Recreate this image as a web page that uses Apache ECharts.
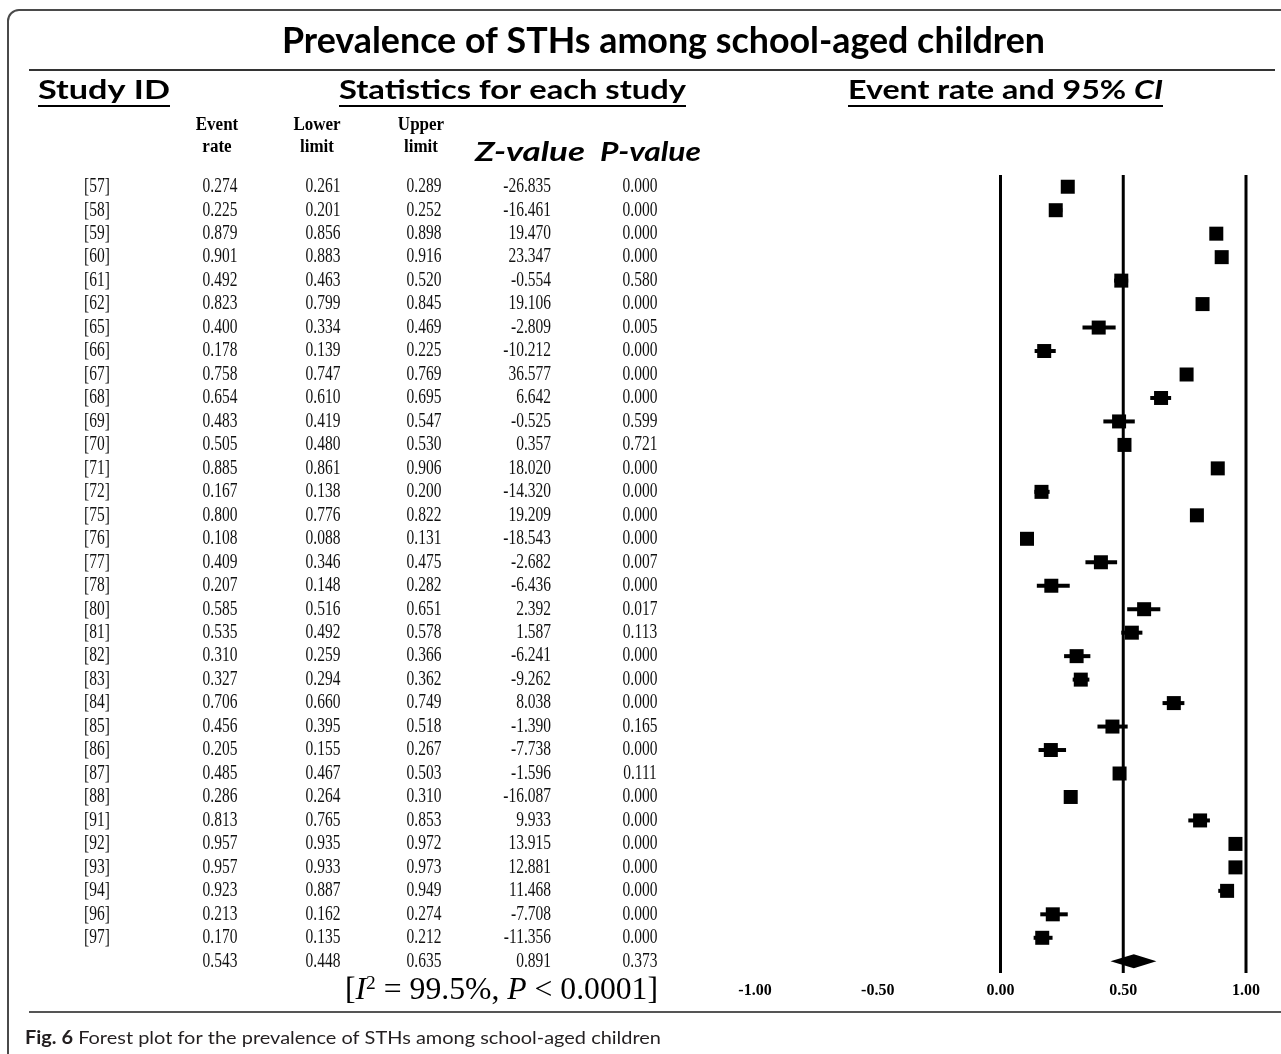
<!DOCTYPE html>
<html>
<head>
<meta charset="utf-8">
<script src="https://cdn.jsdelivr.net/npm/echarts@6/dist/echarts.min.js"></script>
<style>
  html, body { margin: 0; padding: 0; background: #fff; }
  #chart { width: 1281px; height: 1054px; }
</style>
</head>
<body>
<div id="chart"></div>
<script>
// ---------------- data ----------------
const studyIds = ['[57]','[58]','[59]','[60]','[61]','[62]','[65]','[66]','[67]','[68]','[69]','[70]','[71]','[72]','[75]','[76]','[77]','[78]','[80]','[81]','[82]','[83]','[84]','[85]','[86]','[87]','[88]','[91]','[92]','[93]','[94]','[96]','[97]'];
const eventRate = [0.274,0.225,0.879,0.901,0.492,0.823,0.400,0.178,0.758,0.654,0.483,0.505,0.885,0.167,0.800,0.108,0.409,0.207,0.585,0.535,0.310,0.327,0.706,0.456,0.205,0.485,0.286,0.813,0.957,0.957,0.923,0.213,0.170];
const lowerLimit = [0.261,0.201,0.856,0.883,0.463,0.799,0.334,0.139,0.747,0.610,0.419,0.480,0.861,0.138,0.776,0.088,0.346,0.148,0.516,0.492,0.259,0.294,0.660,0.395,0.155,0.467,0.264,0.765,0.935,0.933,0.887,0.162,0.135];
const upperLimit = [0.289,0.252,0.898,0.916,0.520,0.845,0.469,0.225,0.769,0.695,0.547,0.530,0.906,0.200,0.822,0.131,0.475,0.282,0.651,0.578,0.366,0.362,0.749,0.518,0.267,0.503,0.310,0.853,0.972,0.973,0.949,0.274,0.212];
const zValue = ['-26.835','-16.461','19.470','23.347','-0.554','19.106','-2.809','-10.212','36.577','6.642','-0.525','0.357','18.020','-14.320','19.209','-18.543','-2.682','-6.436','2.392','1.587','-6.241','-9.262','8.038','-1.390','-7.738','-1.596','-16.087','9.933','13.915','12.881','11.468','-7.708','-11.356'];
const pValue = [0.000,0.000,0.000,0.000,0.580,0.000,0.005,0.000,0.000,0.000,0.599,0.721,0.000,0.000,0.000,0.000,0.007,0.000,0.017,0.113,0.000,0.000,0.000,0.165,0.000,0.111,0.000,0.000,0.000,0.000,0.000,0.000,0.000];
// pooled (random effects) summary
const summaryRate = 0.543;
const summaryLower = 0.448;
const summaryUpper = 0.635;
const summaryZ = '0.891';
const summaryP = 0.373;
// x axis ticks and reference lines
const xTicks = [-1.00, -0.50, 0.00, 0.50, 1.00];
const refLines = [0, 0.5, 1];

// ---------------- layout helpers ----------------
const SANS = 'Lato';
const SERIF = 'Liberation Serif';
const mctx = document.createElement('canvas').getContext('2d');
function measure(p) {
  mctx.font = (p.italic ? 'italic ' : '') + (p.bold ? 'bold ' : '') + p.size + 'px "' + p.family + '"';
  return mctx.measureText(p.text).width;
}
function textRun(parts, o) {
  const widths = parts.map(measure);
  const total = widths.reduce((a, b) => a + b, 0);
  const sx = o.width ? o.width / total : 1;
  let x = (o.left != null) ? o.left : o.center - total * sx / 2;
  const els = [];
  parts.forEach((p, i) => {
    els.push({
      type: 'text', x: x, y: o.y + (p.dy || 0), scaleX: sx, scaleY: o.scaleY || 1, z: 10,
      style: {
        text: p.text, fontFamily: p.family, fontSize: p.size,
        fontWeight: p.bold ? 'bold' : 'normal', fontStyle: p.italic ? 'italic' : 'normal',
        fill: p.color || '#000', align: 'left', textAlign: 'left',
        verticalAlign: 'middle', textVerticalAlign: 'middle'
      }
    });
    x += widths[i] * sx;
  });
  if (o.underline) {
    const left = (o.left != null) ? o.left : o.center - total * sx / 2;
    els.push({ type: 'line', z: 10, shape: { x1: left, y1: o.underline, x2: left + total * sx, y2: o.underline },
      style: { stroke: '#000', lineWidth: 2 } });
  }
  return els;
}

const graphics = [];
// frame
graphics.push({ type: 'rect', z: 1, shape: { x: 8, y: 10, width: 1300, height: 1100, r: [11, 0, 0, 0] },
  style: { fill: 'none', stroke: '#4a4a4a', lineWidth: 2 } });
graphics.push({ type: 'line', z: 1, shape: { x1: 29, y1: 70, x2: 1275, y2: 70 }, style: { stroke: '#333', lineWidth: 2 } });
graphics.push({ type: 'line', z: 1, shape: { x1: 29, y1: 1012, x2: 1281, y2: 1012 }, style: { stroke: '#555', lineWidth: 2 } });

// title
graphics.push(...textRun([{ text: 'Prevalence of STHs among school-aged children', family: SANS, size: 37, bold: true }],
  { center: 663.5, y: 41, width: 763 }));
// section headers
graphics.push(...textRun([{ text: 'Study ID', family: SANS, size: 27, bold: true }],
  { left: 38, y: 90, width: 132, underline: 106 }));
graphics.push(...textRun([{ text: 'Statistics for each study', family: SANS, size: 27, bold: true }],
  { left: 339, y: 90, width: 347, underline: 106 }));
graphics.push(...textRun([
  { text: 'Event rate and 95% ', family: SANS, size: 27, bold: true },
  { text: 'CI', family: SANS, size: 27, bold: true, italic: true }],
  { left: 848, y: 90, width: 315, underline: 106 }));
// column headers
[['Event', 'rate', 217], ['Lower', 'limit', 317], ['Upper', 'limit', 421]].forEach(h => {
  graphics.push(...textRun([{ text: h[0], family: SERIF, size: 17, bold: true }], { center: h[2], y: 125, scaleY: 1.1 }));
  graphics.push(...textRun([{ text: h[1], family: SERIF, size: 17, bold: true }], { center: h[2], y: 147, scaleY: 1.1 }));
});
graphics.push(...textRun([{ text: 'Z-value', family: SANS, size: 26, bold: true, italic: true }], { left: 475, y: 153, width: 110 }));
graphics.push(...textRun([{ text: 'P-value', family: SANS, size: 26, bold: true, italic: true }], { left: 600, y: 153, width: 101 }));
// heterogeneity
graphics.push(...textRun([
  { text: '[', family: SERIF, size: 31 },
  { text: 'I', family: SERIF, size: 31, italic: true },
  { text: '2', family: SERIF, size: 19, dy: -7 },
  { text: ' = 99.5%, ', family: SERIF, size: 31 },
  { text: 'P', family: SERIF, size: 31, italic: true },
  { text: ' < 0.0001]', family: SERIF, size: 31 }],
  { left: 345, y: 991, width: 313 }));
// caption
graphics.push(...textRun([
  { text: 'Fig. 6', family: SANS, size: 18, bold: true, color: '#231f20' },
  { text: ' Forest plot for the prevalence of STHs among school-aged children', family: SANS, size: 18, color: '#231f20' }],
  { left: 25, y: 1038, width: 636 }));

// ---------------- series ----------------
const rowCats = studyIds.concat(['Overall']);
const studyData = eventRate.map((v, i) => [v, i, lowerLimit[i], upperLimit[i]]);
const tableData = rowCats.map((c, i) => [0, i]);

const COLS = { id: 97, er: 220, lo: 323, up: 424, zRight: 551, p: 640 };
function cellText(txt, x, y, align) {
  return { type: 'text', x: x, y: y, scaleY: 1.3,
    style: { text: txt, x: 0, y: 0, fontFamily: SERIF, fontSize: 15.5, fill: '#111',
      align: align, textAlign: align, verticalAlign: 'middle', textVerticalAlign: 'middle' } };
}

const chart = echarts.init(document.getElementById('chart'), null, { renderer: 'canvas' });
chart.setOption({
  animation: false,
  backgroundColor: '#fff',
  grid: { left: 755, right: 35, top: 175, bottom: 81, containLabel: false },
  xAxis: {
    type: 'value', min: -1, max: 1, interval: 0.5,
    axisLine: { show: false }, axisTick: { show: false }, splitLine: { show: false },
    axisLabel: { show: true, showMinLabel: true, showMaxLabel: true, margin: 10,
      formatter: v => xTicks.some(t => Math.abs(t - v) < 1e-9) ? v.toFixed(2) : '',
      fontFamily: SERIF, fontWeight: 'bold', fontSize: 16, color: '#000' }
  },
  yAxis: {
    type: 'category', data: rowCats, inverse: true, boundaryGap: true, show: false
  },
  graphic: { elements: graphics },
  series: [
    {
      type: 'custom', name: 'ref', silent: true, z: 2,
      data: refLines.map(v => [v, 0]),
      renderItem: (params, api) => {
        const x = api.coord([api.value(0), 0])[0];
        const cs = params.coordSys;
        return { type: 'line', shape: { x1: x, y1: cs.y, x2: x, y2: cs.y + cs.height },
          style: { stroke: '#000', lineWidth: 3 } };
      }
    },
    {
      type: 'custom', name: 'studies', silent: true, z: 3,
      data: studyData,
      renderItem: (params, api) => {
        const p = api.coord([api.value(0), api.value(1)]);
        const pl = api.coord([api.value(2), api.value(1)]);
        const pu = api.coord([api.value(3), api.value(1)]);
        return { type: 'group', children: [
          { type: 'line', shape: { x1: pl[0], y1: pl[1], x2: pu[0], y2: pu[1] }, style: { stroke: '#000', lineWidth: 4 } },
          { type: 'rect', shape: { x: p[0] - 7, y: p[1] - 7, width: 14, height: 14 }, style: { fill: '#000' } }
        ] };
      }
    },
    {
      type: 'custom', name: 'summary', silent: true, z: 3,
      data: [[summaryRate, studyIds.length, summaryLower, summaryUpper]],
      renderItem: (params, api) => {
        const p = api.coord([api.value(0), api.value(1)]);
        const pl = api.coord([api.value(2), api.value(1)]);
        const pu = api.coord([api.value(3), api.value(1)]);
        return { type: 'polygon', shape: { points: [[pl[0], p[1]], [p[0], p[1] - 7], [pu[0], p[1]], [p[0], p[1] + 7]] },
          style: { fill: '#000' } };
      }
    },
    {
      type: 'custom', name: 'table', silent: true, z: 4, clip: false,
      data: tableData,
      renderItem: (params, api) => {
        const i = params.dataIndex;
        const y = api.coord([0, api.value(1)])[1];
        const kids = [];
        if (i < studyIds.length) {
          kids.push(cellText(studyIds[i], COLS.id, y, 'center'));
          kids.push(cellText(eventRate[i].toFixed(3), COLS.er, y, 'center'));
          kids.push(cellText(lowerLimit[i].toFixed(3), COLS.lo, y, 'center'));
          kids.push(cellText(upperLimit[i].toFixed(3), COLS.up, y, 'center'));
          kids.push(cellText(zValue[i], COLS.zRight, y, 'right'));
          kids.push(cellText(pValue[i].toFixed(3), COLS.p, y, 'center'));
        } else {
          kids.push(cellText(summaryRate.toFixed(3), COLS.er, y, 'center'));
          kids.push(cellText(summaryLower.toFixed(3), COLS.lo, y, 'center'));
          kids.push(cellText(summaryUpper.toFixed(3), COLS.up, y, 'center'));
          kids.push(cellText(summaryZ, COLS.zRight, y, 'right'));
          kids.push(cellText(summaryP.toFixed(3), COLS.p, y, 'center'));
        }
        return { type: 'group', children: kids };
      }
    }
  ]
});
</script>
</body>
</html>
